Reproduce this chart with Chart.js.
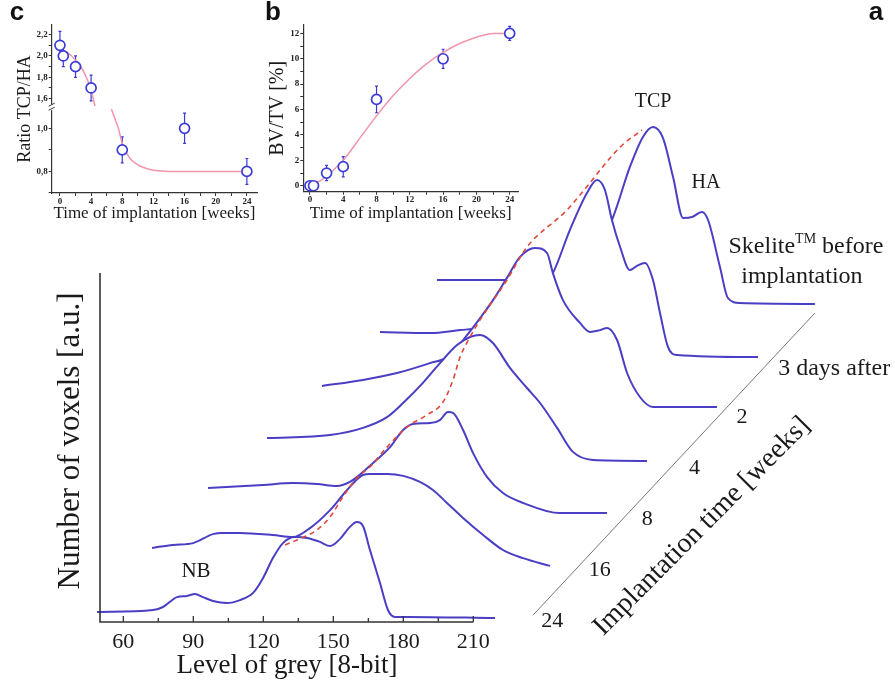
<!DOCTYPE html>
<html>
<head>
<meta charset="utf-8">
<script src="https://cdn.jsdelivr.net/npm/chart.js@4.4.1/dist/chart.umd.min.js"></script>
<style>
  body { margin: 0; background: #fff; }
  #wrap { position: relative; width: 895px; height: 691px; }
  canvas { position: absolute; top: 0; }
</style>
</head>
<body>
<div id="wrap">
  <canvas id="waterfall" width="895" height="691" style="left:0"></canvas>
  <canvas id="ratio" width="265" height="225" style="left:0"></canvas>
  <canvas id="bvtv" width="275" height="225" style="left:255px"></canvas>
</div>
<script>
const SERIF = '"Liberation Serif", "Times New Roman", serif';
const SANS = '"Liberation Sans", Arial, sans-serif';
const TEXT = '#1a1a1a';
const AXIS = '#333';
const CURVE_BLUE = '#4a3ec4';
const RIDGE_RED = '#e0483c';
const MARK_BLUE = '#3b3bd8';
const FIT_PINK = '#f195aa';

Chart.defaults.font.family = SERIF;
Chart.defaults.color = TEXT;

// ---------- panel a: grey level histograms, front (24 weeks) to back (before implantation)
const depthLabels = ['24', '16', '8', '4', '2', '3 days after'];

const grey24w  = [48.7, 72.7, 77, 83, 87.3, 90.7, 94.1, 98.4, 104.4, 110, 115.6, 119.9, 124.1, 128.4, 133.6, 138.7, 144.3, 148.6, 152.9, 157.1, 160.1, 162.7, 165.7, 170, 173.4, 176.4, 181.6, 219.3];
const count24w = [3.3, 4, 5, 8.3, 8.7, 9.3, 8.3, 7, 6.3, 7.3, 9.7, 14.7, 21.3, 26.3, 28.3, 28, 26.7, 25.3, 27.7, 31.7, 33.3, 32, 24, 13, 4, 1.7, 1.7, 1.3];

const grey16w  = [48, 57, 65.6, 74.1, 78, 85.7, 99.8, 108.4, 115.7, 124.3, 131.6, 138.4, 141.4, 148.7, 155.6, 162.8, 168.4, 174.4, 181.3, 189.9, 198.4, 207, 218.6];
const count16w = [7.2, 8.2, 8.8, 11.8, 12.2, 12.2, 11.5, 10.8, 13.8, 19.8, 26.5, 31.5, 31.8, 31.8, 31.2, 29.2, 26.5, 22.2, 17.2, 11.5, 6.5, 3.8, 1.2];

const grey8w  = [47.7, 71.3, 84.1, 94.4, 103, 108.5, 111.5, 118.4, 125.7, 131.3, 135.5, 142.8, 147.1, 150.5, 152.7, 157, 161.3, 167.3, 174.1, 182.7, 198.5, 218.7];
const count8w = [9.7, 10.7, 11.3, 11, 10.3, 11.7, 13.3, 18, 23.3, 29, 31, 31.3, 32.3, 35, 34.7, 29, 21.3, 13.3, 8, 4.7, 1.3, 1.3];

const grey4w  = [48.7, 75.7, 89.8, 100.1, 107, 115.5, 122.8, 130.1, 135.7, 140, 145.5, 152.8, 160.1, 165.7, 173, 179.8, 188.4, 211.5];
const count4w = [8.8, 9.8, 12.2, 15.8, 20.5, 27.2, 33.8, 39.8, 42.5, 43.2, 40.5, 32.2, 25.5, 20.5, 12.2, 4.2, 1.5, 1.2];

const grey2w  = [47.9, 65.5, 80.1, 94.2, 102.8, 109.2, 115.7, 122.1, 127.2, 132.8, 139.2, 144.4, 146.9, 151.2, 158.5, 162.8, 167.1, 170.1, 174.4, 178.7, 184.2, 189.8, 217.2];
const count2w = [8.7, 10.7, 13, 16.3, 18.7, 24.7, 31.3, 38.3, 44.7, 51.7, 54.7, 53, 46.3, 37.3, 29.7, 26.7, 27.3, 28, 24, 13, 5, 1.7, 1.7];

const grey3d  = [48.5, 69.9, 82.8, 90.5, 99.9, 108.5, 117.1, 122.6, 129.9, 137.2, 141.5, 144.9, 147.9, 151.4, 155.6, 158.6, 162.1, 165.5, 168.5, 171.9, 175.8, 210.5];
const count3d = [9.2, 8.8, 9.8, 10.5, 13.2, 17.8, 23.2, 28.8, 43.2, 55.5, 59.8, 56.5, 46.5, 37.5, 29.8, 31.2, 32.2, 26.5, 15.5, 4.2, 1.5, 0.8];

const greyBefore  = [48.6, 78.6, 92.8, 101.3, 109.9, 117.2, 123.6, 131.3, 136.9, 141.2, 145.5, 149.8, 154.1, 157.9, 162.2, 164.8, 169.9, 173.3, 178.5, 210.6];
const countBefore = [9, 9, 9, 10.3, 14.7, 20.7, 29, 46.7, 56.7, 60, 56.3, 43.3, 29.7, 30, 31.7, 29, 13.3, 3, 1.3, 1];

// TCP ridge across the stack (already in stacked coordinates)
const ridgeGrey  = [129.3, 134.4, 143, 148.6, 154.1, 160.1, 165.7, 173, 181.6, 190.1, 197, 201.3, 204.3, 208.6, 212.9, 224.4, 233, 250.1, 255.7, 272.9, 282.3];
const ridgeCount = [25.7, 27.3, 30.7, 35, 41.7, 48, 51.7, 58.3, 65, 69, 73.3, 80.7, 88.3, 95, 100.7, 114, 125, 137.3, 142.3, 158.3, 164];

const greyTicks = [60, 90, 120, 150, 180, 210];
const greyMinorTicks = [75, 105, 135, 165, 195];

// ---------- panels b and c
const weeks = [0, 0.43, 2, 4, 8, 16, 24];
const ratioTcpHa = [2.1, 2.0, 1.9, 1.7, 0.9, 1.0, 0.8];
const ratioErr = [0.13, 0.1, 0.1, 0.12, 0.06, 0.07, 0.06];
const bvTv = [0, 0, 1.0, 1.5, 6.8, 10.0, 12.0];
const bvTvErr = [0.3, 0.3, 0.6, 0.8, 1.05, 0.75, 0.55];

const ratioFitWeeksHigh = [0, 0.5, 1, 1.5, 2, 2.5, 3, 3.5, 4, 4.5];
const ratioFitHigh      = [2.06, 2.05, 2.03, 2.0, 1.96, 1.92, 1.86, 1.78, 1.68, 1.53];
const ratioFitWeeksLow  = [6.6, 7, 7.5, 8, 8.5, 9, 10, 11, 12, 14, 16, 20, 24];
const ratioFitLow       = [1.09, 1.05, 1.0, 0.93, 0.89, 0.86, 0.83, 0.815, 0.805, 0.8, 0.8, 0.8, 0.8];

const bvTvFitWeeks = [0, 1, 2, 3, 4, 6, 8, 10, 12, 14, 16, 18, 20, 22, 24];
const bvTvFit      = [-0.05, 0.3, 0.75, 1.35, 2.0, 3.75, 5.5, 7.1, 8.45, 9.6, 10.5, 11.2, 11.7, 12.0, 12.0];

// stacking geometry of the waterfall (grey units / a.u. per depth step)
const DEPTH_SHIFT = 24.3;
const DEPTH_LIFT = 17.5;
const FRONT_TOP = 116.3;
const DEPTH_AXIS = { x0: 235.6, y0: 2.3, x1: 356.4, y1: 103 };

const curves = [
  [grey24w, count24w], [grey16w, count16w], [grey8w, count8w], [grey4w, count4w],
  [grey2w, count2w], [grey3d, count3d], [greyBefore, countBefore]
];

const curveSets = curves.map(([g, c], i) => ({
  data: g.map((v, k) => ({ x: v + i * DEPTH_SHIFT, y: c[k] + i * DEPTH_LIFT })),
  borderColor: CURVE_BLUE,
  borderWidth: 2,
  pointRadius: 0,
  cubicInterpolationMode: 'monotone',
  fill: 'start',
  backgroundColor: '#fff',
  clip: 6
}));

const ridgeSet = {
  data: ridgeGrey.map((g, k) => ({ x: g, y: ridgeCount[k] })),
  borderColor: RIDGE_RED,
  borderWidth: 1.6,
  borderDash: [5, 4],
  pointRadius: 0,
  cubicInterpolationMode: 'monotone',
  fill: false
};

const waterfallDecor = {
  id: 'waterfallDecor',
  afterDraw(chart) {
    const { ctx } = chart;
    const X = v => chart.scales.x.getPixelForValue(v);
    const Y = v => chart.scales.y.getPixelForValue(v);
    ctx.save();

    // front axes
    ctx.strokeStyle = AXIS;
    ctx.lineWidth = 1.6;
    ctx.beginPath();
    ctx.moveTo(X(50), Y(FRONT_TOP));
    ctx.lineTo(X(50), Y(0));
    ctx.lineTo(X(210), Y(0));
    ctx.stroke();
    ctx.lineWidth = 1.3;
    ctx.beginPath();
    greyTicks.forEach(g => { ctx.moveTo(X(g), Y(0)); ctx.lineTo(X(g), Y(0) - 6); });
    greyMinorTicks.forEach(g => { ctx.moveTo(X(g), Y(0)); ctx.lineTo(X(g), Y(0) - 4); });
    ctx.stroke();

    ctx.fillStyle = TEXT;
    ctx.textAlign = 'center';
    ctx.textBaseline = 'middle';
    ctx.font = `22px ${SERIF}`;
    greyTicks.forEach(g => ctx.fillText(String(g), X(g), Y(0) + 20));

    ctx.font = `27px ${SERIF}`;
    ctx.fillText('Level of grey [8-bit]', 287, 666);

    ctx.save();
    ctx.translate(71, 441);
    ctx.rotate(-Math.PI / 2);
    ctx.font = `31px ${SERIF}`;
    ctx.fillText('Number of voxels [a.u.]', 0, 0);
    ctx.restore();

    // depth (implantation time) axis
    const p0 = { x: X(DEPTH_AXIS.x0), y: Y(DEPTH_AXIS.y0) };
    const p1 = { x: X(DEPTH_AXIS.x1), y: Y(DEPTH_AXIS.y1) };
    const len = Math.hypot(p1.x - p0.x, p1.y - p0.y);
    const ux = (p1.x - p0.x) / len, uy = (p1.y - p0.y) / len;
    const nx = -uy, ny = ux;
    ctx.strokeStyle = '#777';
    ctx.lineWidth = 1;
    ctx.beginPath();
    ctx.moveTo(p0.x, p0.y);
    ctx.lineTo(p1.x, p1.y);
    ctx.stroke();

    ctx.font = `22px ${SERIF}`;
    depthLabels.forEach((lab, k) => {
      const s = 9 + 69.5 * k;
      if (k < depthLabels.length - 1) {
        ctx.textAlign = 'center';
        ctx.fillText(lab, p0.x + ux * s + nx * 18, p0.y + uy * s + ny * 18);
      } else {
        ctx.textAlign = 'left';
        ctx.font = `24px ${SERIF}`;
        ctx.fillText(lab, p0.x + ux * (s - 9) + nx * 11, p0.y + uy * (s - 9) + ny * 11);
      }
    });

    ctx.save();
    ctx.translate(p0.x + ux * 180 + nx * 63, p0.y + uy * 180 + ny * 63);
    ctx.rotate(Math.atan2(uy, ux) + 0.03);
    ctx.textAlign = 'center';
    ctx.font = `28px ${SERIF}`;
    ctx.fillText('Implantation time [weeks]', 0, 0);
    ctx.restore();

    // peak annotations
    const back = curves.length - 1;
    const at = (i, g, c) => ({ x: X(g + i * DEPTH_SHIFT), y: Y(c + i * DEPTH_LIFT) });
    ctx.textAlign = 'center';
    ctx.font = `20px ${SERIF}`;
    const tcp = at(back, greyBefore[9], countBefore[9]);
    ctx.fillText('TCP', tcp.x, tcp.y - 25);
    const ha = at(back, greyBefore[14], countBefore[14]);
    ctx.fillText('HA', ha.x + 4, ha.y - 29);
    ctx.font = `21px ${SERIF}`;
    const nb = at(0, grey24w[4], count24w[4]);
    ctx.fillText('NB', nb.x + 9, nb.y - 24);

    // label of the back histogram
    const end = at(back, greyBefore[greyBefore.length - 1], countBefore[countBefore.length - 1]);
    ctx.font = `24px ${SERIF}`;
    const w1 = ctx.measureText('Skelite').width;
    const w3 = ctx.measureText(' before').width;
    ctx.font = `14px ${SERIF}`;
    const w2 = ctx.measureText('TM').width;
    let lx = end.x - 9 - (w1 + w2 + w3) / 2;
    const ly = end.y - 57;
    ctx.textAlign = 'left';
    ctx.font = `24px ${SERIF}`;
    ctx.fillText('Skelite', lx, ly);
    ctx.font = `14px ${SERIF}`;
    ctx.fillText('TM', lx + w1, ly - 8);
    ctx.font = `24px ${SERIF}`;
    ctx.fillText(' before', lx + w1 + w2, ly);
    ctx.textAlign = 'center';
    ctx.fillText('implantation', end.x - 13, end.y - 27);

    // panel letters
    ctx.font = `bold 26px ${SANS}`;
    ctx.fillStyle = '#111';
    ctx.fillText('c', 17, 13);
    ctx.fillText('b', 273, 13);
    ctx.fillText('a', 876, 13);
    ctx.restore();
  }
};

new Chart(document.getElementById('waterfall'), {
  type: 'line',
  data: { datasets: [ridgeSet, ...curveSets] },
  options: {
    responsive: false,
    animation: false,
    devicePixelRatio: 1,
    layout: { padding: { left: 100, right: 25, top: 22, bottom: 69 } },
    scales: {
      x: { type: 'linear', min: 50, max: 380, display: false },
      y: { type: 'linear', min: 0, max: 200, display: false }
    },
    plugins: { legend: { display: false }, tooltip: { enabled: false } }
  },
  plugins: [waterfallDecor]
});

// ---------- insets
const TICK_FONT = { family: SERIF, size: 9, weight: 'bold' };
const tenths = v => {
  const t = Math.round(v * 10);
  return t % 2 ? '' : (t / 10).toFixed(1).replace('.', ',');
};

const errorBars = {
  id: 'errorBars',
  beforeDatasetsDraw(chart) {
    const { ctx } = chart;
    chart.data.datasets.forEach((ds, i) => {
      if (!ds.errors) return;
      const meta = chart.getDatasetMeta(i);
      const xs = chart.scales[meta.xAxisID], ys = chart.scales[meta.yAxisID];
      ctx.save();
      ctx.strokeStyle = MARK_BLUE;
      ctx.lineWidth = 1.2;
      ctx.beginPath();
      ds.data.forEach((p, k) => {
        const cx = xs.getPixelForValue(p.x);
        const t = ys.getPixelForValue(p.y + ds.errors[k]);
        const b = ys.getPixelForValue(p.y - ds.errors[k]);
        ctx.moveTo(cx, t); ctx.lineTo(cx, b);
        ctx.moveTo(cx - 1.5, t); ctx.lineTo(cx + 1.5, t);
        ctx.moveTo(cx - 1.5, b); ctx.lineTo(cx + 1.5, b);
      });
      ctx.stroke();
      ctx.restore();
    });
  }
};

const markerStyle = {
  showLine: false,
  pointRadius: 5,
  pointBorderWidth: 1.7,
  pointBorderColor: MARK_BLUE,
  pointBackgroundColor: '#fff'
};
const fitStyle = {
  showLine: true,
  pointRadius: 0,
  borderColor: FIT_PINK,
  borderWidth: 1.5,
  cubicInterpolationMode: 'monotone'
};
const axisBase = {
  grid: { drawOnChartArea: false, tickLength: 3, color: AXIS },
  border: { color: AXIS, width: 1.2 }
};
const weekAxis = (min, max, height) => ({
  type: 'linear', min, max,
  afterFit: s => { s.height = height; },
  ticks: { stepSize: 2, includeBounds: false, autoSkip: false, maxRotation: 0, padding: 0,
           font: TICK_FONT, color: '#222', callback: v => (v % 4 === 0 ? String(v) : '') },
  title: { display: true, text: 'Time of implantation [weeks]', font: { family: SERIF, size: 17 },
           color: TEXT, padding: { top: 0, bottom: 1 } },
  ...axisBase
});

// c: TCP/HA ratio on a broken axis
const highIdx = weeks.map((w, k) => k).filter(k => ratioTcpHa[k] > 1.3);
const lowIdx = weeks.map((w, k) => k).filter(k => ratioTcpHa[k] <= 1.3);

const axisBreak = {
  id: 'axisBreak',
  afterDraw(chart) {
    const { ctx } = chart;
    const s = chart.scales.yHigh;
    const x = s.right, y = s.bottom;
    ctx.save();
    ctx.fillStyle = '#fff';
    ctx.fillRect(x - 3, y - 3, 6, 6);
    ctx.strokeStyle = AXIS;
    ctx.lineWidth = 1;
    ctx.beginPath();
    ctx.moveTo(x - 3, y - 1); ctx.lineTo(x + 3, y - 4);
    ctx.moveTo(x - 3, y + 3); ctx.lineTo(x + 3, y);
    ctx.stroke();
    ctx.translate(25, (chart.chartArea.top + chart.chartArea.bottom) / 2);
    ctx.rotate(-Math.PI / 2);
    ctx.fillStyle = TEXT;
    ctx.textAlign = 'center';
    ctx.textBaseline = 'middle';
    ctx.font = `18px ${SERIF}`;
    ctx.fillText('Ratio TCP/HA', 0, 0);
    ctx.restore();
  }
};

const ratioAxis = (min, max, weight) => ({
  type: 'linear', position: 'left', stack: 'ratio', stackWeight: weight, min, max,
  afterFit: s => { s.width = 51.7; },
  ticks: { stepSize: 0.1, includeBounds: false, autoSkip: false, padding: 1,
           font: TICK_FONT, color: '#222', callback: tenths },
  ...axisBase
});

new Chart(document.getElementById('ratio'), {
  type: 'scatter',
  data: {
    datasets: [
      { data: highIdx.map(k => ({ x: weeks[k], y: ratioTcpHa[k] })), errors: highIdx.map(k => ratioErr[k]),
        yAxisID: 'yHigh', ...markerStyle },
      { data: lowIdx.map(k => ({ x: weeks[k], y: ratioTcpHa[k] })), errors: lowIdx.map(k => ratioErr[k]),
        yAxisID: 'yLow', ...markerStyle },
      { data: ratioFitWeeksHigh.map((w, k) => ({ x: w, y: ratioFitHigh[k] })), yAxisID: 'yHigh', ...fitStyle },
      { data: ratioFitWeeksLow.map((w, k) => ({ x: w, y: ratioFitLow[k] })), yAxisID: 'yLow', ...fitStyle }
    ]
  },
  options: {
    responsive: false,
    animation: false,
    devicePixelRatio: 1,
    layout: { padding: { left: 0, right: 8, top: 25, bottom: 0 } },
    scales: {
      x: weekAxis(-1.06, 25.3, 32),
      yLow: ratioAxis(0.7, 1.098, 85),
      yHigh: ratioAxis(1.52, 2.29, 81.4)
    },
    plugins: { legend: { display: false }, tooltip: { enabled: false } }
  },
  plugins: [errorBars, axisBreak]
});

// b: bone volume fraction
new Chart(document.getElementById('bvtv'), {
  type: 'scatter',
  data: {
    datasets: [
      { data: weeks.map((w, k) => ({ x: w, y: bvTv[k] })), errors: bvTvErr, ...markerStyle },
      { data: bvTvFitWeeks.map((w, k) => ({ x: w, y: bvTvFit[k] })), ...fitStyle }
    ]
  },
  options: {
    responsive: false,
    animation: false,
    devicePixelRatio: 1,
    layout: { padding: { left: 7, right: 12, top: 25, bottom: 0 } },
    scales: {
      x: weekAxis(-0.8, 25, 33.3),
      y: {
        type: 'linear', min: -0.47, max: 12.66,
        afterFit: s => { s.width = 41.3; },
        ticks: { stepSize: 1, includeBounds: false, autoSkip: false, padding: 1,
                 font: TICK_FONT, color: '#222', callback: v => (v % 2 === 0 ? String(v) : '') },
        title: { display: true, text: 'BV/TV [%]', font: { family: SERIF, size: 20 }, color: TEXT,
                 padding: { top: 4, bottom: 0 } },
        ...axisBase
      }
    },
    plugins: { legend: { display: false }, tooltip: { enabled: false } }
  },
  plugins: [errorBars]
});
</script>
</body>
</html>
